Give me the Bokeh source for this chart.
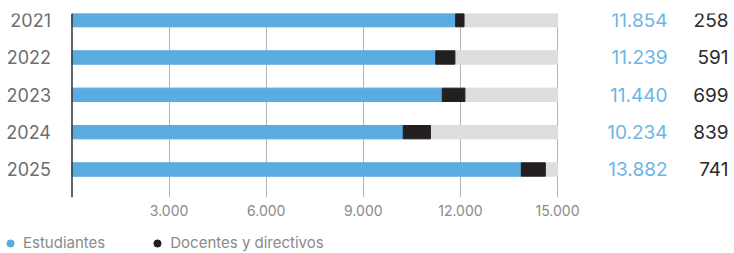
from bokeh.plotting import figure
from bokeh.layouts import column
from bokeh.models import Range1d, FixedTicker, Legend, LegendItem, ColumnDataSource, Span
from bokeh.core.properties import value
from bokeh.embed import file_html
from bokeh.resources import INLINE

# ---- data ----
years = ["2021", "2022", "2023", "2024", "2025"]
estudiantes = [11854, 11239, 11440, 10234, 13882]
docentes = [258, 591, 699, 839, 741]
scale_max = 15000
x_ticks = [3000, 6000, 9000, 12000, 15000]
series_names = ["Estudiantes", "Docentes y directivos"]

def fmt(n):
    return f"{n:,}".replace(",", ".")

BLUE = "#5aace0"
BLUE_TXT = "#6db6e6"
BLACK = "#231f20"
GREY_BG = "#dcddde"
FONT = "Inter"

pos = list(range(len(years)))
src = ColumnDataSource(dict(
    y=pos,
    year=years,
    est=estudiantes,
    tot=[e + d for e, d in zip(estudiantes, docentes)],
    mx=[scale_max] * len(years),
    zero=[0] * len(years),
    est_lbl=[fmt(v) for v in estudiantes],
    doc_lbl=[fmt(v) for v in docentes],
))

W = 730
p = figure(
    output_backend="svg", toolbar_location=None,
    width=W, height=221, y_axis_location=None,
    min_border_left=0, min_border_right=0, min_border_top=13, min_border_bottom=24,
    x_range=Range1d(-2209, 20345), y_range=Range1d(4.75, -0.178),
    outline_line_color=None, background_fill_color="white",
)

bar_h = 0.357
p.hbar(y="y", left="zero", right="mx", height=bar_h, source=src, color=GREY_BG)
p.hbar(y="y", left="zero", right="est", height=bar_h, source=src, color=BLUE)
p.hbar(y="y", left="est", right="tot", height=bar_h, source=src, color=BLACK)

# category labels (left of the zero line)
p.text(x="zero", y="y", text="year", source=src, x_offset=-21,
       text_align="right", text_baseline="middle", text_color="#6d6e70",
       text_font=value(FONT), text_font_size="18px")
# value labels
p.text(x="mx", y="y", text="est_lbl", source=src, x_offset=110,
       text_align="right", text_baseline="middle", text_color=BLUE_TXT,
       text_font=value(FONT), text_font_size="19px")
p.text(x="mx", y="y", text="doc_lbl", source=src, x_offset=171,
       text_align="right", text_baseline="middle", text_color="#2b2b2b",
       text_font=value(FONT), text_font_size="19px")

# zero line
p.add_layout(Span(location=0, dimension="height", line_color="#333333", line_width=1.5))

# x axis
p.xaxis.ticker = FixedTicker(ticks=x_ticks)
p.xaxis.major_label_overrides = {t: fmt(t) for t in x_ticks}
p.xaxis.axis_line_color = None
p.xaxis.major_tick_line_color = None
p.xaxis.minor_tick_line_color = None
p.xaxis.major_label_standoff = 1
p.xaxis.major_label_text_font = FONT
p.xaxis.major_label_text_font_size = "14px"
p.xaxis.major_label_text_color = "#8a8a8a"

p.xgrid.ticker = FixedTicker(ticks=x_ticks)
p.xgrid.grid_line_color = "#b5b5b5"
p.xgrid.grid_line_width = 1
p.ygrid.grid_line_color = None

# legend figure
lf = figure(
    output_backend="svg", toolbar_location=None,
    width=W, height=31, min_border=0,
    x_axis_location=None, y_axis_location=None,
    x_range=Range1d(0, 1), y_range=Range1d(0, 1),
    outline_line_color=None, background_fill_color="white",
)
lf.grid.visible = False
nan = float("nan")
r1 = lf.scatter(x=[nan], y=[nan], marker="circle", color=BLUE)
r2 = lf.scatter(x=[nan], y=[nan], marker="circle", color=BLACK)
legend = Legend(
    items=[LegendItem(label=series_names[0], renderers=[r1]),
           LegendItem(label=series_names[1], renderers=[r2])],
    location=(1, 0), orientation="horizontal",
    glyph_width=18, glyph_height=18, label_standoff=4, spacing=43,
    padding=0, margin=0, border_line_color=None, background_fill_alpha=0,
    label_text_font=FONT, label_text_font_size="15px", label_text_color="#8a8a8a",
)
lf.add_layout(legend, "center")

layout = column(p, lf, spacing=0)
open("out.html", "w").write(file_html(layout, INLINE))
